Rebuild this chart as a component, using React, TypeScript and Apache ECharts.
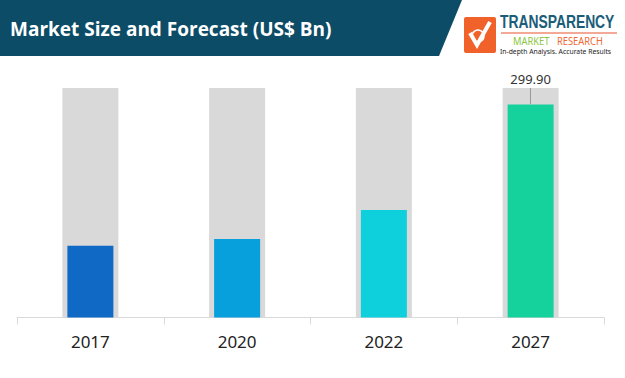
import React, { useEffect, useRef } from "react";
import * as echarts from "echarts";

const categories = ["2017", "2020", "2022", "2027"];
const values = [101, 110.4, 151.2, 299.9];
const backgroundMax = 323;
const barColors = ["#1169c6", "#079fdc", "#0dd0dc", "#15d29c"];
const highlightLabel = "299.90";
const title = "Market Size and Forecast (US$ Bn)";

export default function App() {
  const ref = useRef<HTMLDivElement>(null);
  useEffect(() => {
    if (!ref.current) return;
    const chart = echarts.init(ref.current, null, { renderer: "svg" });
    const bg = categories.map(() => backgroundMax);
    const lastIdx = categories.length - 1;
    chart.setOption({
      animation: false,
      backgroundColor: "#ffffff",
      grid: { left: 17, right: 21, top: 88, bottom: 60.5 },
      xAxis: [
        {
          type: "category",
          data: categories,
          axisLine: { lineStyle: { color: "#d9d9d9", width: 1 } },
          axisTick: { show: true, length: 7, lineStyle: { color: "#d9d9d9" } },
          axisLabel: { fontSize: 17, color: "#222", margin: 15, fontFamily: "Noto Sans" },
        },
        { type: "category", data: categories, show: false },
      ],
      yAxis: { type: "value", min: 0, max: backgroundMax, show: false, splitLine: { show: false } },
      series: [
        {
          type: "bar",
          xAxisIndex: 0,
          data: bg,
          barWidth: 56,
          itemStyle: { color: "#d9d9d9" },
          silent: true,
        },
        {
          type: "bar",
          xAxisIndex: 1,
          barWidth: 46,
          data: values.map((v, i) => ({ value: v, itemStyle: { color: barColors[i] } })),
          markLine: {
            silent: true,
            symbol: ["none", "none"],
            lineStyle: { color: "#9a9a9a", width: 1, type: "solid" },
            label: {
              show: true,
              position: "end",
              formatter: highlightLabel,
              fontSize: 13,
              color: "#333",
              fontFamily: "Noto Sans",
              distance: 3,
            },
            data: [
              [
                { coord: [categories[lastIdx], values[lastIdx]] },
                { coord: [categories[lastIdx], backgroundMax] },
              ],
            ],
          },
        },
      ],
      graphic: [
        {
          type: "polygon",
          shape: { points: [[0, 0], [462, 0], [439, 56], [0, 56]] },
          style: { fill: "#0c4c66" },
        },
        {
          type: "text",
          x: 10,
          y: 29,
          style: {
            text: title,
            fill: "#ffffff",
            font: "bold 19px 'Open Sans'",
            verticalAlign: "middle",
          },
        },
        {
          type: "rect",
          shape: { x: 464, y: 17, width: 32, height: 36, r: 2 },
          style: { fill: "#f0622a" },
        },
        {
          type: "polyline",
          shape: { points: [[470, 33], [477, 45], [490, 22]] },
          style: { stroke: "#ffffff", lineWidth: 4, fill: null },
        },
        {
          type: "circle",
          shape: { cx: 478, cy: 36, r: 6 },
          style: { stroke: "#ffffff", lineWidth: 1.5, fill: null },
        },
        {
          type: "text",
          x: 500,
          y: 21,
          scaleX: 0.77,
          style: {
            text: "TRANSPARENCY",
            fill: "#1b5d79",
            font: "bold 18px 'Liberation Sans'",
            verticalAlign: "middle",
          },
        },
        {
          type: "line",
          shape: { x1: 501, y1: 33, x2: 617, y2: 33 },
          style: { stroke: "#e8552c", lineWidth: 1.2 },
        },
        {
          type: "text",
          x: 513,
          y: 41,
          scaleX: 0.85,
          style: { text: "MARKET", fill: "#8cc63f", font: "11px 'Noto Sans'", verticalAlign: "middle" },
        },
        {
          type: "text",
          x: 557,
          y: 41,
          scaleX: 0.85,
          style: { text: "RESEARCH", fill: "#ef6a35", font: "11px 'Noto Sans'", verticalAlign: "middle" },
        },
        {
          type: "text",
          x: 500,
          y: 51,
          scaleX: 0.85,
          style: {
            text: "In-depth Analysis. Accurate Results",
            fill: "#222",
            font: "8px 'Noto Sans'",
            verticalAlign: "middle",
          },
        },
      ],
    });
    return () => chart.dispose();
  }, []);
  return <div ref={ref} style={{ width: 625, height: 378, position: "absolute", left: 0, top: 0 }} />;
}
